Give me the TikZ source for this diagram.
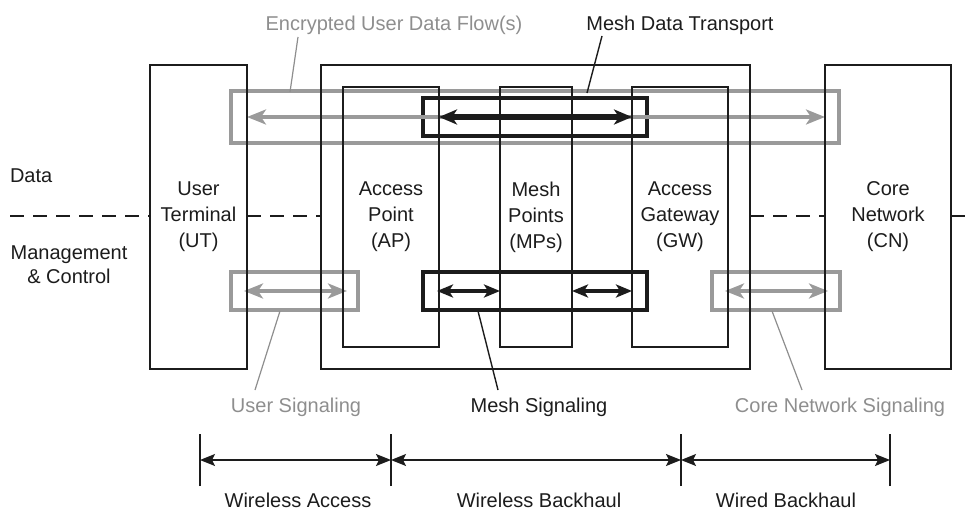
\documentclass[tikz,border=0pt]{standalone}
\usepackage{fontspec}
\setmainfont{Liberation Sans}
\usetikzlibrary{arrows.meta,backgrounds}
\definecolor{lgray}{HTML}{9A9A9A}
\definecolor{tgray}{HTML}{8E8E8E}
\definecolor{dk}{HTML}{1C1C1C}
\begin{document}
\begin{tikzpicture}[x=1pt,y=-1pt,
  every node/.style={font=\fontsize{20}{26}\selectfont, inner sep=0pt, outer sep=0pt, text=dk},
  unitbox/.style={draw=dk, line width=1.4pt, align=center, anchor=north west},
  grayrect/.style={draw=lgray, line width=3.2pt, anchor=north west},
  blackrect/.style={draw=dk, line width=3.6pt, anchor=north west},
  grayarrow/.style={draw=lgray, line width=3.2pt, {Stealth[length=19pt,width=15pt,inset=5pt]}-{Stealth[length=19pt,width=15pt,inset=5pt]}},
  blackarrow/.style={draw=dk, line width=5.5pt, {Stealth[length=18pt,width=15pt,inset=5pt]}-{Stealth[length=18pt,width=15pt,inset=5pt]}},
  sigarrow/.style={draw=dk, line width=4.5pt, {Stealth[length=16pt,width=13pt,inset=4pt]}-{Stealth[length=16pt,width=13pt,inset=4pt]}},
  dimarrow/.style={draw=dk, line width=1.4pt, {Stealth[length=15pt,width=12pt,inset=3pt]}-{Stealth[length=15pt,width=12pt,inset=3pt]}},
  graylead/.style={draw=tgray, line width=1.2pt},
  blacklead/.style={draw=dk, line width=1.4pt},
  divider/.style={draw=dk, line width=1.3pt, dash pattern=on 14pt off 9pt},
  tick/.style={draw=dk, line width=1.4pt},
  graylabel/.style={text=tgray, anchor=base}
]
\useasboundingbox (0,0) rectangle (965,510);

% units
\node[unitbox, minimum width=97pt, minimum height=304pt] (ut) at (150,65) {User\\Terminal\\(UT)};
\node[unitbox, minimum width=429pt, minimum height=304pt] (mesh) at (321,65) {};
\node[unitbox, minimum width=96pt, minimum height=260pt] (ap) at (343,87) {Access\\Point\\(AP)};
\node[unitbox, minimum width=72pt, minimum height=260pt] (mp) at (500,87) {Mesh\\Points\\(MPs)};
\node[unitbox, minimum width=96pt, minimum height=260pt] (gw) at (632,87) {Access\\Gateway\\(GW)};
\node[unitbox, minimum width=126pt, minimum height=304pt] (cn) at (825,65) {Core\\Network\\(CN)};

\begin{scope}[on background layer]
% data plane
\node[grayrect, minimum width=608pt, minimum height=52pt] (enc) at (231,91) {};
\node[blackrect, minimum width=224pt, minimum height=38pt] (mdt) at (423,98) {};
\draw[grayarrow] (ut.east |- enc.center) -- (cn.west |- enc.center);
\draw[blackarrow] (ap.east |- enc.center) -- (gw.west |- enc.center);
% control plane
\node[grayrect, minimum width=127pt, minimum height=38pt] (usig) at (231,272) {};
\node[blackrect, minimum width=224pt, minimum height=38pt] (msig) at (423,272) {};
\node[grayrect, minimum width=128pt, minimum height=38pt] (csig) at (712,272) {};
\coordinate (usL) at (244,291);
\coordinate (usR) at (347,291);
\coordinate (msL) at (437,291);
\coordinate (csL) at (725,291);
\coordinate (csR) at (828,291);
\draw[grayarrow] (usL) -- (usR);
\draw[sigarrow] (msL) -- (mp.west |- msL);
\draw[sigarrow] (mp.east |- msL) -- (gw.west |- msL);
\draw[grayarrow] (csL) -- (csR);
\end{scope}

% plane divider
\coordinate (dv0) at (10,216);
\coordinate (dv1) at (965,216);
\draw[divider] (dv0) -- (ut.west |- dv0);
\draw[divider] (ut.east |- dv0) -- (mesh.west |- dv0);
\draw[divider] (mesh.east |- dv0) -- (cn.west |- dv0);
\draw[divider] (cn.east |- dv0) -- (dv1);

\node[anchor=base west] (data) at (10,183) {Data};
\node[align=center, font=\fontsize{20}{24}\selectfont] (mgmt) at (69,265) {Management\\\& Control};

% callout labels
\node[graylabel] (encl) at (394,31) {Encrypted User Data Flow(s)};
\node[anchor=base] (mdtl) at (680,31) {Mesh Data Transport};
\node[graylabel] (usigl) at (296,412) {User Signaling};
\node[anchor=base] (msigl) at (539,412) {Mesh Signaling};
\node[graylabel] (csigl) at (840,412) {Core Network Signaling};

\coordinate (encA) at (298,37);
\coordinate (encB) at (290,92);
\draw[graylead] (encA) -- (encB);
\coordinate (mdtA) at (602,36);
\coordinate (mdtB) at (587,93);
\draw[blacklead] (mdtA) -- (mdtB);
\coordinate (usA) at (280,311);
\coordinate (usB) at (255,390);
\draw[graylead] (usA) -- (usB);
\coordinate (msA) at (478,311);
\coordinate (msB) at (498,390);
\draw[blacklead] (msA) -- (msB);
\coordinate (csA) at (772,311);
\coordinate (csB) at (802,390);
\draw[graylead] (csA) -- (csB);

% segments
\coordinate (s1) at (200,460);
\coordinate (s2) at (391,460);
\coordinate (s3) at (681,460);
\coordinate (s4) at (890,460);
\foreach \s in {s1,s2,s3,s4} {
  \draw[tick] ([yshift=-26pt]\s) -- ([yshift=26pt]\s);
}
\draw[dimarrow] (s1) -- (s2);
\draw[dimarrow] (s2) -- (s3);
\draw[dimarrow] (s3) -- (s4);
\node[anchor=base] (wa) at (298,507) {Wireless Access};
\node[anchor=base] (wb) at (539,507) {Wireless Backhaul};
\node[anchor=base] (wd) at (786,507) {Wired Backhaul};
\end{tikzpicture}
\end{document}
